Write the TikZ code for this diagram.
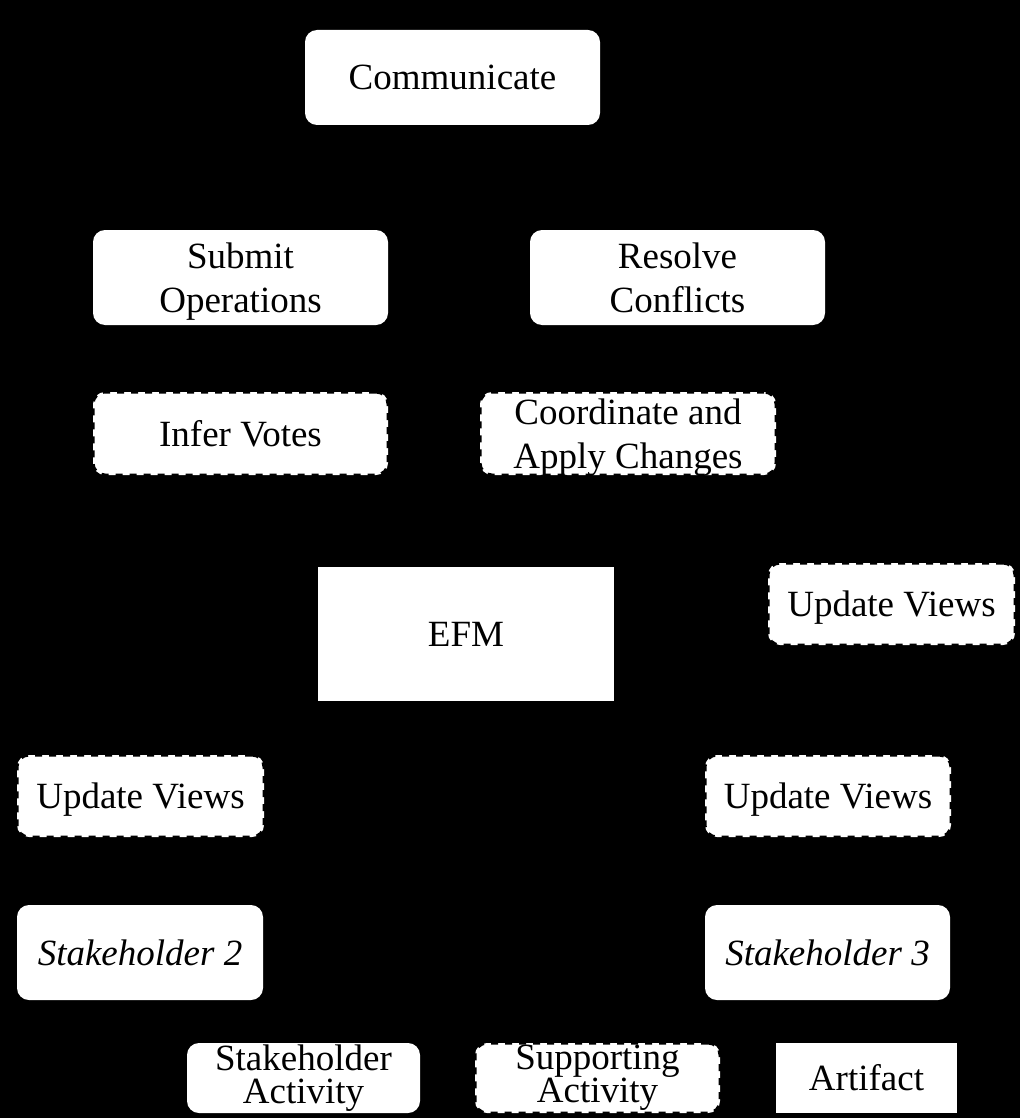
\documentclass[tikz,border=0pt]{standalone}
\usepackage{fontspec}
\setmainfont{Liberation Serif}
\begin{document}
\begin{tikzpicture}[x=1pt,y=1pt,
  base/.style={fill=white, inner sep=0pt, align=center, font=\fontsize{37}{44}\selectfont, text depth=0pt},
  act/.style={base, rounded corners=12pt},
  supp/.style={base, rounded corners=12pt, draw=black, line width=3pt, dash pattern=on 7pt off 7pt},
  art/.style={base},
  legend/.style={font=\fontsize{37}{33}\selectfont, text depth=}
]
\fill[black] (0,0) rectangle (1020,-1118);
\useasboundingbox (0,0) rectangle (1020,-1118);

\node[act, minimum width=295, minimum height=95] (comm) at (452.5,-77.5) {Communicate};
\node[act, minimum width=295, minimum height=95] (submit) at (240.5,-277.5) {Submit\\Operations};
\node[act, minimum width=295, minimum height=95] (resolve) at (677.5,-277.5) {Resolve\\Conflicts};
\node[supp, minimum width=295, minimum height=83] (infer) at (240.5,-433.5) {Infer Votes};
\node[supp, minimum width=296, minimum height=83] (coord) at (628,-433.5) {Coordinate and\\Apply Changes};
\node[art, minimum width=296, minimum height=134] (efm) at (466,-634) {EFM};
\node[supp, minimum width=247, minimum height=82] (uvr) at (891.5,-604) {Update Views};
\node[supp, minimum width=247, minimum height=82] (uvl) at (140.5,-796) {Update Views};
\node[supp, minimum width=246, minimum height=82] (uvm) at (828,-796) {Update Views};
\node[act, minimum width=246, minimum height=95] (sh2) at (140,-952.5) {\itshape Stakeholder 2};
\node[act, minimum width=245, minimum height=95] (sh3) at (827.5,-952.5) {\itshape Stakeholder 3};

\node[act, legend, minimum width=233, minimum height=70] (lg1) at (303.5,-1078) {Stakeholder\\Activity};
\node[supp, legend, minimum width=245, minimum height=70] (lg2) at (597.5,-1078) {Supporting\\Activity};
\node[art, legend, minimum width=181, minimum height=70] (lg3) at (866.5,-1078) {Artifact};
\end{tikzpicture}
\end{document}
